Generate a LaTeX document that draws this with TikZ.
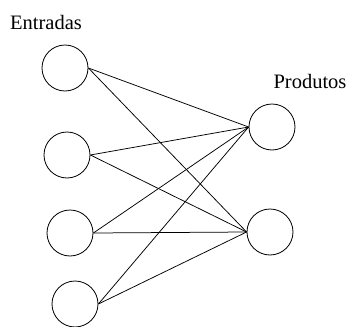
\documentclass[tikz,border=0pt]{standalone}
\usepackage{fontspec}
\setmainfont{Liberation Serif}
\usepackage{tikz}
\tikzset{
  neuron/.style={draw,circle,minimum size=46pt,inner sep=0pt,line width=0.8pt},
  link/.style={line width=0.75pt}
}
\begin{document}
\begin{tikzpicture}[x=1pt,y=-1pt]
\useasboundingbox (0,0) rectangle (349,327);
\node[neuron] (in1) at (65,68) {};
\node[neuron] (in2) at (67,155) {};
\node[neuron] (in3) at (70,233) {};
\node[neuron] (in4) at (75,304) {};
\node[neuron] (out1) at (272,127) {};
\node[neuron] (out2) at (270,232) {};
\node[font=\fontsize{20.5}{22}\selectfont] (lblin) at (46,22) {Entradas};
\node[font=\fontsize{20.5}{22}\selectfont] (lblout) at (310,81) {Produtos};
\foreach \i in {1,...,4}
  \foreach \j in {1,2}
    \draw[link] (in\i.east) -- (out\j.west);
\end{tikzpicture}
\end{document}
